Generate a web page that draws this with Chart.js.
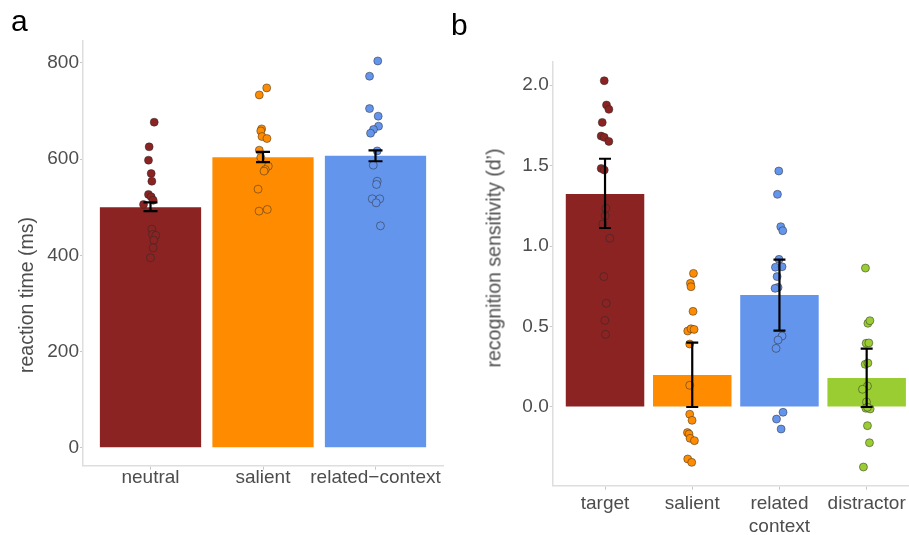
<!DOCTYPE html>
<html>
<head>
<meta charset="utf-8">
<title>reaction time and recognition sensitivity</title>
<script src="https://cdn.jsdelivr.net/npm/chart.js@4.4.0/dist/chart.umd.min.js"></script>
<style>
    body { margin: 0; width: 909px; height: 535px; overflow: hidden; position: relative; background: #fff; font-family: "Liberation Sans", Arial, sans-serif; }
    canvas { position: absolute; top: 0; }
    #chartA { left: 0; }
    #chartB { left: 450px; }
    .letter { position: absolute; font-size: 30px; line-height: 30px; color: #000; }
    .ytitle { position: absolute; font-size: 19.5px; color: #4d4d4d; white-space: nowrap; transform: translate(-50%, -50%) rotate(-90deg); }
</style>
</head>
<body>
<canvas id="chartA" width="450" height="535"></canvas>
<canvas id="chartB" width="480" height="535"></canvas>
<div class="letter" style="left:11px; top:6px;">a</div>
<div class="letter" style="left:451px; top:10px;">b</div>
<div class="ytitle" style="left:26px; top:295px;">reaction time (ms)</div>
<div class="ytitle" style="left:494px; top:258px;">recognition sensitivity (d’)</div>
<script>
// panel a: reaction time
const rtCats = ["neutral", "salient", "related−context"];
const rtColors = ["#8B2323", "#FF8C00", "#6495ED"];
const rtMeans = [500, 604, 607];
const rtLow = [492, 593.5, 595.5];
const rtHigh = [510, 615, 618];
const rtTicks = [0, 200, 400, 600, 800];

const rtNeutral = [676.7, 625.5, 597.7, 570, 554, 526.5, 521.5, 514.6, 505.7, 454.4, 443.4, 441.3, 431.5, 415.5, 394.8];
const rtNeutralJit = [0.033, -0.012, -0.018, 0.006, 0.012, -0.018, 0.006, 0.024, -0.062, 0.012, 0.018, 0.047, 0.029, 0.024, 0];
const rtSalient = [748, 733.4, 662.8, 658.6, 646.9, 642.8, 618.5, 603.3, 585.3, 578.4, 575, 537.5, 491.8, 495.3];
const rtSalientJit = [0.033, -0.033, -0.012, -0.02, -0.009, 0.035, -0.033, -0.02, 0.047, 0.02, 0.009, -0.044, -0.035, 0.038];
const rtRelated = [804, 772.3, 705, 689.2, 668.4, 661.5, 653.8, 617, 587.4, 554, 547.3, 517.4, 517.4, 509.1, 461.3];
const rtRelatedJit = [0.02, -0.053, -0.053, 0.024, 0.027, -0.018, -0.044, 0.015, -0.02, 0.015, 0.009, -0.029, 0.038, 0.006, 0.044];

// panel b: recognition sensitivity
const dCats = [["target"], ["salient"], ["related", "context"], ["distractor"]];
const dColors = ["#8B2323", "#FF8C00", "#6495ED", "#9ACD32"];
const dMeans = [1.323, 0.199, 0.696, 0.18];
const dLow = [1.112, 0.0, 0.474, 0.0];
const dHigh = [1.542, 0.4, 0.915, 0.362];
const dTicks = [0, 0.5, 1, 1.5, 2];

const dTarget = [2.027, 1.876, 1.849, 1.768, 1.683, 1.675, 1.65, 1.482, 1.472, 1.234, 1.188, 1.137, 1.048, 0.81, 0.644, 0.538, 0.451];
const dTargetJit = [-0.009, 0.017, 0.044, -0.032, -0.044, -0.009, 0.044, -0.044, -0.009, 0.009, 0.002, -0.025, 0.055, -0.014, 0.014, -0.002, 0.006];
const dSalient = [0.83, 0.768, 0.747, 0.594, 0.472, 0.486, 0.482, 0.391, 0.135, -0.045, -0.083, -0.159, -0.168, -0.195, -0.209, -0.323, -0.344];
const dSalientJit = [0.014, -0.021, -0.014, 0.009, -0.052, -0.014, 0.021, -0.029, -0.029, -0.029, -0.002, -0.055, -0.037, -0.025, 0.025, -0.052, -0.006];
const dRelated = [1.466, 1.321, 1.12, 1.095, 0.917, 0.868, 0.871, 0.81, 0.743, 0.737, 0.441, 0.416, 0.364, -0.033, -0.075, -0.137];
const dRelatedJit = [-0.008, -0.023, 0.015, 0.038, -0.005, -0.046, 0.03, -0.027, -0.016, -0.05, 0.03, -0.016, -0.039, 0.041, -0.034, 0.019];
const dDistr = [0.863, 0.52, 0.536, 0.396, 0.398, 0.265, 0.273, 0.13, 0.11, 0.031, -0.008, -0.012, -0.002, -0.116, -0.222, -0.373];
const dDistrJit = [-0.014, 0.014, 0.037, -0.006, 0.025, -0.017, 0.014, 0.009, -0.048, -0.002, -0.009, 0.04, 0.009, 0.009, 0.032, -0.037];

const tickGrey = "#4d4d4d";
const font = { family: "'Liberation Sans', Arial, sans-serif", size: 19, lineHeight: 1.2 };

// draws the mean +/- error whiskers on top of everything
function errorBars(low, high, cap) {
    return {
        id: "errorBars",
        afterDatasetsDraw(chart) {
            let ctx = chart.ctx;
            let xs = chart.scales.x;
            let ys = chart.scales.y;
            ctx.save();
            ctx.strokeStyle = "#000";
            ctx.lineWidth = 2.2;
            for (let i = 0; i < low.length; i++) {
                let x = xs.getPixelForValue(i + 1);
                let y1 = ys.getPixelForValue(low[i]);
                let y2 = ys.getPixelForValue(high[i]);
                ctx.beginPath();
                ctx.moveTo(x, y1);
                ctx.lineTo(x, y2);
                ctx.moveTo(x - cap / 2, y1);
                ctx.lineTo(x + cap / 2, y1);
                ctx.moveTo(x - cap / 2, y2);
                ctx.lineTo(x + cap / 2, y2);
                ctx.stroke();
            }
            ctx.restore();
        }
    };
}

function makeChart(id, c) {
    let datasets = [{
        type: "bar",
        data: c.means.map((m, i) => ({ x: i + 1, y: m })),
        backgroundColor: c.colors,
        barPercentage: 0.9,
        categoryPercentage: 1,
        order: 3
    }];
    c.points.forEach((vals, i) => {
        datasets.push({
            type: "scatter",
            data: vals.map((v, k) => ({ x: i + 1 + c.jitter[i][k], y: v })),
            backgroundColor: c.colors[i],
            borderColor: "rgba(40,40,40,0.55)",
            borderWidth: 0.9,
            pointRadius: 4,
            order: 1
        });
    });

    return new Chart(document.getElementById(id), {
        type: "bar",
        data: { datasets: datasets },
        options: {
            responsive: false,
            animation: false,
            devicePixelRatio: 1,
            events: [],
            layout: { padding: c.padding },
            plugins: { legend: { display: false }, tooltip: { enabled: false } },
            scales: {
                x: {
                    type: "linear",
                    bounds: "data",
                    offset: false,
                    min: 0.4,
                    max: c.cats.length + 0.6,
                    afterBuildTicks: (s) => { s.ticks = c.cats.map((t, i) => ({ value: i + 1 })); },
                    afterFit: (s) => { s.height = c.xHeight; },
                    ticks: {
                        callback: (v) => c.cats[Math.round(v) - 1],
                        color: tickGrey,
                        font: font,
                        padding: c.xPad,
                        autoSkip: false,
                        maxRotation: 0
                    },
                    grid: { offset: false, drawOnChartArea: false, drawTicks: true, tickLength: 4, tickColor: "#c8c8c8" },
                    border: { display: true, color: "#dedede", width: 1.5 }
                },
                y: {
                    bounds: "data",
                    min: c.yMin,
                    max: c.yMax,
                    afterBuildTicks: (s) => { s.ticks = c.ticks.map((v) => ({ value: v })); },
                    afterFit: (s) => { s.width = c.yWidth; },
                    ticks: {
                        callback: c.fmt,
                        color: tickGrey,
                        font: font,
                        padding: 1
                    },
                    grid: { drawOnChartArea: false, drawTicks: true, tickLength: 3, tickColor: "#c8c8c8" },
                    border: { display: true, color: "#dedede", width: 1.5 }
                }
            }
        },
        plugins: [errorBars(c.low, c.high, c.cap)]
    });
}

makeChart("chartA", {
    cats: rtCats,
    colors: rtColors,
    means: rtMeans,
    low: rtLow,
    high: rtHigh,
    points: [rtNeutral, rtSalient, rtRelated],
    jitter: [rtNeutralJit, rtSalientJit, rtRelatedJit],
    ticks: rtTicks,
    fmt: (v) => String(v),
    yMin: -37.4,
    yMax: 845.5,
    yWidth: 83,
    xHeight: 69.3,
    xPad: -3,
    cap: 14,
    padding: { top: 41, right: 7, left: 0, bottom: 0 }
});

makeChart("chartB", {
    cats: dCats,
    colors: dColors,
    means: dMeans,
    low: dLow,
    high: dHigh,
    points: [dTarget, dSalient, dRelated, dDistr],
    jitter: [dTargetJit, dSalientJit, dRelatedJit, dDistrJit],
    ticks: dTicks,
    fmt: (v) => v.toFixed(1),
    yMin: -0.489,
    yMax: 2.145,
    yWidth: 102.7,
    xHeight: 49.3,
    xPad: 2.5,
    cap: 12,
    padding: { top: 61.7, right: 11, left: 0, bottom: 0 }
});
</script>
</body>
</html>
